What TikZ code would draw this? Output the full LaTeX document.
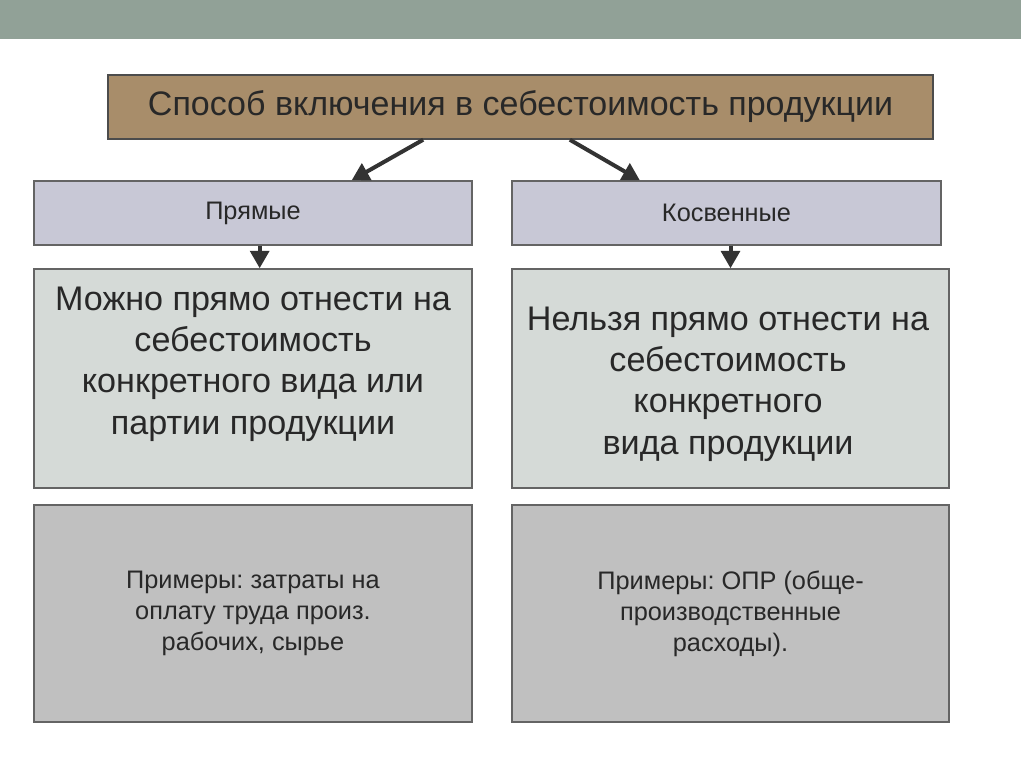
\documentclass[tikz,border=0pt]{standalone}
\usepackage{fontspec}
\setmainfont{Liberation Sans}
\usetikzlibrary{arrows.meta}
\frenchspacing

\definecolor{barcol}{RGB}{145,161,151}
\definecolor{titlecol}{RGB}{168,141,106}
\definecolor{kindcol}{RGB}{200,200,214}
\definecolor{desccol}{RGB}{213,218,215}
\definecolor{examcol}{RGB}{192,192,192}
\definecolor{edgecol}{RGB}{100,100,100}
\definecolor{inkcol}{RGB}{40,40,40}

\begin{document}
\begin{tikzpicture}[x=0.75pt, y=-0.75pt,
    box/.style={draw=edgecol, line width=1.1pt, inner sep=0pt, align=center, text=inkcol},
    titlebox/.style={box, fill=titlecol, draw=black!70, minimum width=618.75pt, minimum height=48pt,
        font=\fontsize{25.5}{30}\selectfont},
    kindbox/.style={box, fill=kindcol, minimum height=48pt, font=\fontsize{19}{22}\selectfont},
    descbox/.style={box, fill=desccol, minimum height=164.25pt},
    desctext/.style={text=inkcol, align=center, font=\fontsize{25.6}{31}\selectfont},
    exambox/.style={box, fill=examcol, minimum height=162.75pt, font=\fontsize{19}{23.3}\selectfont},
    arr/.style={draw=black!80, line width=3pt, -{Triangle[length=13pt,width=14pt]}}]
    % Page and top bar
    \useasboundingbox (0,0) rectangle (1024,767);
    \fill[white] (0,0) rectangle (1024,767);
    \fill[barcol] (0,0) rectangle (1021,39);

    % Title
    \node[titlebox] (title) at (520.5,107) {Способ включения в себестоимость продукции};

    % Kinds
    \node[kindbox, minimum width=328.5pt] (direct) at (253,213) {Прямые};
    \node[kindbox, minimum width=321.75pt] (indirect) at (726.5,213) {Косвенные};

    % Descriptions
    \node[descbox, minimum width=328.5pt] (ddesc) at (253,378.5) {};
    \node[desctext] (dtext) at (253,364)
        {Можно прямо отнести на\\себестоимость\\конкретного вида или\\партии продукции};
    \node[descbox, minimum width=327.75pt] (idesc) at (730.5,378.5) {};
    \node[desctext] (itext) at (728,384)
        {Нельзя прямо отнести на\\себестоимость\\конкретного\\вида продукции};

    % Examples
    \node[exambox, minimum width=328.5pt] (dexam) at (253,613.5)
        {Примеры: затраты на\\оплату труда произ.\\рабочих, сырье};
    \node[exambox, minimum width=327.75pt] (iexam) at (730.5,613.5)
        {Примеры: ОПР (обще-\\производственные\\расходы).};

    % Arrows
    \draw[arr] ([xshift=-73pt]title.south) -- ([xshift=74pt]direct.north);
    \draw[arr] ([xshift=37pt]title.south) -- ([xshift=-65pt]indirect.north);
    \draw[arr] ([xshift=5pt]direct.south) -- ([xshift=5pt]ddesc.north);
    \draw[arr] ([xshift=3pt]indirect.south) -- ([xshift=3pt]idesc.north -| indirect.south);
\end{tikzpicture}
\end{document}
